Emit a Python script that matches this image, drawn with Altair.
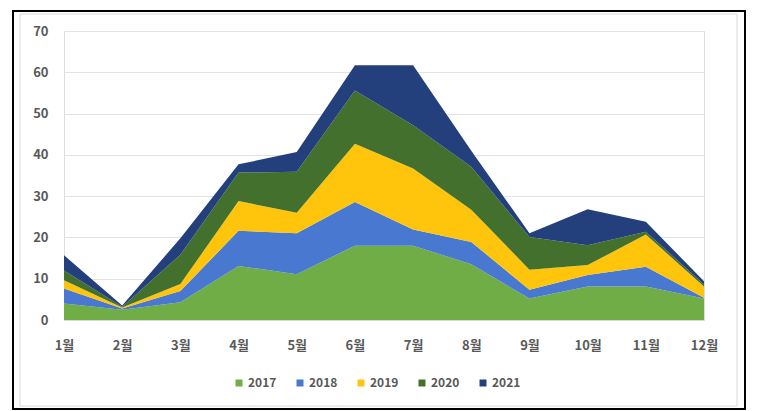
import altair as alt
import pandas as pd

months = ["1월", "2월", "3월", "4월", "5월", "6월", "7월", "8월", "9월", "10월", "11월", "12월"]
years = ["2017", "2018", "2019", "2020", "2021"]
v2017 = [4.0, 2.5, 4.3, 13.1, 11.1, 18.0, 18.0, 13.5, 5.2, 8.1, 8.1, 5.2]
v2018 = [3.6, 0.3, 2.7, 8.5, 9.9, 10.6, 3.9, 5.4, 2.1, 2.8, 4.8, 0.2]
v2019 = [2.0, 0.2, 1.7, 7.2, 5.0, 14.1, 14.8, 7.8, 4.9, 2.4, 7.8, 2.7]
v2020 = [2.4, 0.2, 7.1, 6.9, 9.9, 12.9, 10.5, 10.4, 7.9, 4.8, 0.7, 0.5]
v2021 = [3.7, 0.3, 4.0, 2.0, 4.8, 6.1, 14.5, 3.9, 0.9, 8.7, 2.4, 0.8]
colors = ["#70AD47", "#4878D0", "#FFC40C", "#43702C", "#24407C"]

series = [v2017, v2018, v2019, v2020, v2021]
rows = []
for i, (yr, vals) in enumerate(zip(years, series)):
    for m, v in zip(months, vals):
        rows.append({"month": m, "year": yr, "value": v, "ord": i})
df = pd.DataFrame(rows)

FONT = "Noto Sans CJK KR"
GRAY = "#595959"

area = alt.Chart(df).mark_area(opacity=1).encode(
    x=alt.X("month:N", sort=months, scale=alt.Scale(type="point", padding=0),
            axis=alt.Axis(title=None, labelAngle=0, ticks=False, domain=True,
                          domainColor="#D9D9D9", labelPadding=19, labelFontSize=13,
                          labelFont=FONT, labelFontWeight="bold", labelColor=GRAY, grid=False)),
    y=alt.Y("value:Q", stack="zero", scale=alt.Scale(domain=[0, 70], nice=False),
            axis=alt.Axis(title=None, values=[0, 10, 20, 30, 40, 50, 60, 70], ticks=False,
                          domain=False, gridColor="#E3E3E3", labelPadding=16, labelFontSize=13,
                          labelFont=FONT, labelFontWeight="bold", labelColor=GRAY)),
    color=alt.Color("year:N", scale=alt.Scale(domain=years, range=colors),
                    legend=alt.Legend(title=None, orient="none", direction="horizontal",
                                      legendX=169, legendY=346, symbolType="square",
                                      symbolSize=49, symbolStrokeWidth=0, labelFontSize=12,
                                      labelFont=FONT, labelFontWeight="bold", labelColor=GRAY,
                                      columnPadding=17, labelOffset=3)),
    order=alt.Order("ord:Q", sort="ascending"),
)

one = alt.Data(values=[{"k": 1}])
inner = alt.Chart(one).mark_rect(fill="transparent", stroke="#D9D9D9", strokeWidth=1).encode(
    x=alt.value(-44), x2=alt.value(673), y=alt.value(-17), y2=alt.value(375))
outer = alt.Chart(one).mark_rect(fill="transparent", stroke="#000000", strokeWidth=2).encode(
    x=alt.value(-51), x2=alt.value(681), y=alt.value(-20), y2=alt.value(378))

chart = alt.layer(area, inner, outer).properties(
    width=640, height=289,
    autosize=alt.AutoSizeParams(type="none"),
    padding={"left": 56, "top": 23, "right": 46, "bottom": 91},
).configure_view(stroke=None).configure(background="white")

chart.save("out.html", embed_options={"renderer": "svg", "actions": False})
